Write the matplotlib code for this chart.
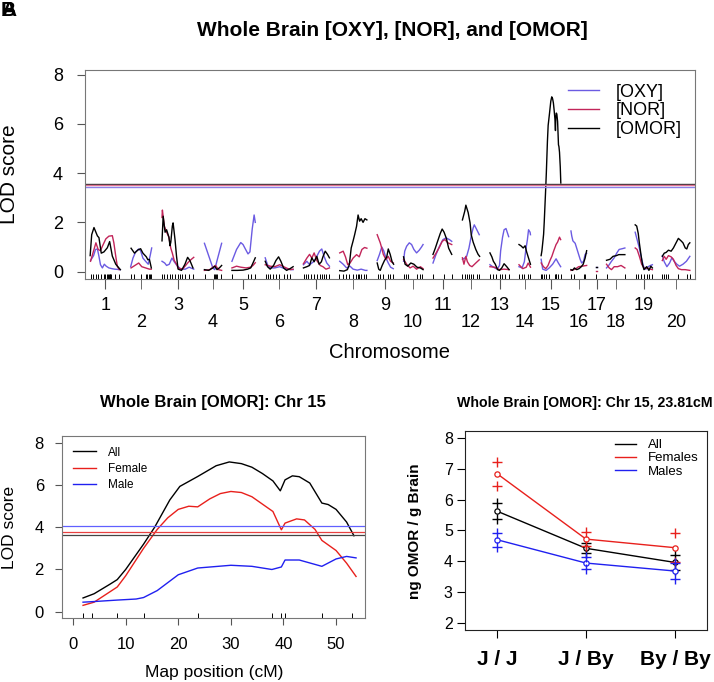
import numpy as np
import matplotlib.pyplot as plt
from matplotlib.lines import Line2D

plt.rcParams['font.family'] = ['Liberation Sans', 'DejaVu Sans']

# ---------------- genome scan (top panel) ----------------
chroms = [str(i) for i in range(1, 21)]
chr_len = [81, 57, 86, 47, 62, 75, 70, 73, 44, 52, 52, 47, 52, 31, 54, 42, 2, 49, 47, 73]
gap = 25

# marker positions (cM) per chromosome, for the rug
markers = [
    [3, 9, 16, 22, 30, 36, 39, 46, 48, 50, 52, 54, 56, 65, 76],
    [3, 11, 29, 42, 44, 48, 51, 55],
    [0, 7, 14, 21, 28, 35, 43, 49, 54, 62, 71, 83],
    [2, 25, 28, 31, 33, 45],
    [0, 43, 52, 61],
    [2, 7, 14, 21, 29, 38, 49, 59, 66],
    [2, 7, 12, 21, 29, 36, 45, 50, 55, 61, 68],
    [0, 9, 17, 26, 35, 43, 49, 52, 57, 64, 69],
    [2, 9, 17, 30, 35, 43],
    [2, 7, 12, 35, 43, 49],
    [1, 29, 50],
    [1, 7, 14, 19, 24, 29, 38, 45],
    [0, 9, 16, 26, 33, 40, 50],
    [0, 7, 14, 24, 29],
    [1.9, 3.6, 8.4, 13.4, 23.7, 37.8, 39.6, 40.3, 47.3, 53.1],
    [1, 8, 34, 39],
    [0.5],
    [1, 48],
    [2, 9, 16, 24, 31, 37, 44],
    [0, 5, 10, 16, 40, 64, 73],
]

# [OXY]
oxy_pos = [
    [2, 10, 15, 20, 24, 28, 33, 38, 43, 50, 58, 65, 80],
    [1, 7, 14, 22, 27, 33, 40, 47, 52, 56],
    [1, 8, 13, 20, 27, 33, 40, 50, 62, 72, 84],
    [1, 12, 23, 28, 34, 40, 46],
    [1, 13, 24, 30, 35, 43, 48, 54, 59, 62],
    [1, 7, 14, 26, 39, 52, 70, 74],
    [1, 10, 17, 29, 36, 43, 49, 55, 62, 69],
    [1, 10, 19, 28, 36, 47, 57, 68, 72],
    [1, 7, 13, 18, 24, 30, 36, 43],
    [1, 4, 9, 16, 22, 28, 35, 42, 48, 52],
    [1, 9, 18, 27, 35, 44, 50],
    [1, 7, 12, 18, 24, 29, 32, 37, 45],
    [1, 10, 20, 26, 29, 34, 38, 43, 50],
    [0, 8, 14, 18, 22, 25, 29, 30],
    [2, 6, 15, 23, 32, 41, 47, 53],
    [1, 3, 6, 12, 16, 21, 25, 29, 34, 38, 42],
    [0, 1],
    [0, 7, 13, 20, 27, 33, 41, 48],
    [1, 6, 12, 18, 23, 29, 35, 41, 46],
    [0, 5, 12, 19, 25, 31, 38, 45, 54, 63, 72],
]
oxy_lod = [
    [0.45, 0.65, 0.9, 0.92, 0.62, 0.28, 0.15, 0.3, 0.22, 0.15, 0.12, 0.1, 0.08],
    [0.2, 0.55, 0.8, 0.92, 0.85, 0.55, 0.42, 0.3, 0.65, 0.96],
    [0.42, 0.35, 0.25, 0.3, 0.55, 0.4, 0.25, 0.1, 0.1, 0.18, 0.1],
    [1.15, 0.65, 0.15, 0.08, 0.45, 0.8, 1.15],
    [0.42, 0.9, 1.18, 1.1, 0.95, 0.72, 0.8, 1.73, 2.3, 2.0],
    [0.56, 0.28, 0.15, 0.15, 0.2, 0.12, 0.08, 0.08],
    [0.28, 0.42, 0.28, 0.42, 0.62, 0.83, 0.92, 0.62, 0.35, 0.22],
    [0.42, 0.3, 0.15, 0.22, 0.1, 0.06, 0.1, 0.05, 0.05],
    [0.45, 0.7, 1.0, 0.85, 0.55, 0.35, 0.18, 0.12],
    [0.42, 0.83, 1.03, 1.17, 1.1, 0.9, 0.76, 0.87, 1.0, 1.1],
    [0.35, 0.7, 1.03, 1.3, 1.37, 1.3, 1.23],
    [0.5, 0.55, 0.62, 0.95, 1.44, 1.77, 1.9, 1.75, 1.5],
    [0.28, 0.18, 0.1, 0.25, 0.85, 1.4, 1.7, 1.75, 1.42],
    [0.2, 0.15, 0.4, 0.9, 1.3, 1.7, 1.6, 1.5],
    [0.5, 0.1, 0.05, 0.15, 0.3, 0.52, 0.35, 0.2],
    [1.65, 1.45, 1.25, 1.15, 0.95, 0.7, 0.5, 0.35, 0.42, 0.7, 0.75],
    [0.18, 0.18],
    [0.15, 0.28, 0.42, 0.56, 0.76, 0.9, 0.93, 0.96],
    [1.6, 1.3, 0.95, 0.5, 0.2, 0.1, 0.2, 0.25, 0.28],
    [0.65, 0.4, 0.2, 0.35, 0.56, 0.42, 0.3, 0.22, 0.3, 0.42, 0.62],
]

# [NOR]
nor_pos = [
    [2, 11, 16, 22, 28, 33, 42, 50, 59, 63, 68, 72, 77],
    [2, 12, 22, 30, 40, 50, 55],
    [1, 2, 7, 13, 19, 24, 28, 33, 39, 43, 55, 68, 74, 84],
    [1, 15, 23, 30, 38, 46],
    [1, 13, 24, 38, 50, 56, 62],
    [1, 14, 26, 39, 52, 66, 74],
    [1, 10, 17, 23, 29, 36, 45, 52, 60, 69],
    [1, 10, 16, 22, 28, 36, 45, 52, 59, 66, 72],
    [1, 9, 13, 17, 24, 30, 36, 43],
    [1, 9, 18, 26, 35, 45, 52],
    [1, 9, 18, 25, 32, 40, 50],
    [1, 5, 10, 14, 20, 26, 36, 45],
    [1, 13, 26, 38, 51],
    [0, 10, 19, 24, 30],
    [2, 8, 14, 20, 25, 30, 35, 41, 45, 50, 53],
    [1, 12, 21, 30, 42],
    [0, 1],
    [0, 7, 13, 20, 29, 38, 48],
    [1, 6, 12, 18, 25, 33, 41, 46],
    [0, 5, 10, 16, 23, 29, 36, 42, 50, 60, 72],
]
nor_lod = [
    [0.42, 0.9, 1.17, 0.9, 0.85, 1.03, 1.33, 1.44, 1.46, 1.17, 0.62, 0.22, 0.08],
    [0.15, 0.25, 0.35, 0.2, 0.15, 0.1, 0.1],
    [2.2, 2.5, 1.85, 1.6, 1.4, 0.95, 0.75, 0.45, 0.3, 0.15, 0.1, 0.35, 0.45, 0.58],
    [0.05, 0.08, 0.18, 0.25, 0.08, 0.05],
    [0.15, 0.22, 0.18, 0.15, 0.18, 0.25, 0.36],
    [0.28, 0.22, 0.2, 0.28, 0.18, 0.08, 0.1],
    [0.32, 0.55, 0.7, 0.55, 0.76, 0.45, 0.25, 0.2, 0.1, 0.15],
    [0.76, 0.83, 0.6, 0.28, 0.35, 0.55, 0.69, 0.6, 0.9, 0.98, 0.95],
    [1.5, 1.17, 0.95, 0.7, 0.49, 0.62, 0.42, 0.35],
    [0.5, 0.3, 0.15, 0.22, 0.1, 0.2, 0.12],
    [0.55, 0.75, 1.0, 1.23, 1.3, 1.17, 1.1],
    [0.56, 0.3, 0.62, 0.4, 0.25, 0.2, 0.35, 0.48],
    [0.2, 0.18, 0.08, 0.1, 0.08],
    [0.28, 0.12, 0.18, 0.35, 0.18],
    [0.35, 0.2, 0.12, 0.25, 0.45, 0.62, 0.85, 1.1, 1.2, 1.4, 1.3],
    [0.05, 0.1, 0.2, 0.22, 0.25],
    [0.04, 0.04],
    [0.3, 0.15, 0.08, 0.2, 0.2, 0.25, 0.15],
    [0.96, 0.9, 0.62, 0.3, 0.12, 0.15, 0.1, 0.08],
    [0.45, 0.62, 0.5, 0.65, 0.6, 0.5, 0.25, 0.12, 0.08, 0.08, 0.05],
]

# ---------------- chr 15 detail (bottom left) ----------------
all_pos = [1.9, 4, 7, 8.4, 10, 13.4, 15.5, 18.4, 20.3, 23.7, 27.2, 29.7, 32, 34, 36, 38,
           39.4, 40.3, 41.7, 43, 45, 47.3, 48.5, 50, 52, 53.4]
all_lod = [0.65, 0.85, 1.3, 1.52, 2.0, 3.2, 4.0, 5.3, 5.94, 6.41, 6.92, 7.1, 7.02, 6.85,
           6.55, 6.2, 5.73, 6.25, 6.44, 6.4, 6.1, 5.15, 5.08, 4.85, 4.25, 3.6]
fem_pos = [1.9, 4, 8.4, 10, 13.4, 16, 18, 20, 22, 23.7, 26, 28, 30, 32, 34, 36, 38,
           39.6, 40.3, 42.5, 44, 46, 47.3, 50, 52, 53.8]
fem_lod = [0.3, 0.45, 1.17, 1.7, 3.0, 3.9, 4.45, 4.85, 5.0, 4.97, 5.35, 5.6, 5.7, 5.65,
           5.45, 5.1, 4.75, 3.88, 4.2, 4.4, 4.35, 3.9, 3.38, 2.9, 2.3, 1.67]
male_pos = [1.9, 4, 8.4, 12, 13.4, 16, 20, 23.7, 30, 34, 37.8, 39.6, 40.3, 43, 47.3,
            50, 52, 53.8]
male_lod = [0.45, 0.48, 0.55, 0.6, 0.67, 1.0, 1.75, 2.07, 2.2, 2.15, 2.0, 2.12, 2.45,
            2.45, 2.15, 2.5, 2.62, 2.55]

# [OMOR]  (chr 15 is the same scan as "All" above)
omor_pos = [
    [1, 5, 11, 16, 20, 24, 30, 37, 46, 52, 59, 68, 80],
    [2, 11, 20, 27, 33, 42, 46, 50, 55],
    [1, 4, 9, 13, 19, 22, 24, 28, 30, 35, 39, 43, 52, 61, 68, 74, 82],
    [1, 12, 23, 28, 34, 40, 46],
    [1, 15, 30, 42, 50, 56, 62],
    [1, 7, 14, 23, 29, 36, 42, 49, 57, 66, 74],
    [1, 10, 17, 23, 29, 36, 42, 48, 52, 58, 64, 69],
    [1, 12, 21, 26, 31, 36, 40, 45, 49, 53, 57, 62, 67, 72],
    [1, 5, 9, 14, 20, 26, 30, 35, 40, 44],
    [1, 5, 12, 20, 28, 36, 45, 52],
    [1, 7, 13, 20, 25, 30, 36, 42, 50],
    [1, 7, 10, 16, 21, 24, 29, 36, 42, 46],
    [1, 6, 10, 15, 21, 26, 32, 38, 45, 51],
    [0, 5, 11, 16, 20, 24, 30],
    all_pos,
    [1, 5, 10, 16, 22, 28, 33, 38, 42],
    [0, 1],
    [0, 9, 17, 26, 32, 39, 48],
    [1, 5, 9, 12, 16, 20, 24, 31, 37, 42, 46],
    [0, 5, 10, 16, 23, 29, 36, 42, 49, 54, 60, 64, 68, 72],
]
omor_lod = [
    [0.65, 1.5, 1.79, 1.6, 1.45, 1.38, 0.75, 0.8, 0.97, 1.22, 0.63, 0.3, 0.08],
    [0.95, 0.75, 0.88, 0.93, 0.75, 0.6, 0.48, 0.5, 0.15],
    [1.25, 2.25, 1.6, 1.7, 1.4, 1.05, 1.2, 1.85, 1.98, 1.3, 0.62, 0.1, 0.05, 0.3, 0.58, 0.45, 0.15],
    [0.08, 0.05, 0.15, 0.22, 0.08, 0.15, 0.25],
    [0.05, 0.05, 0.06, 0.1, 0.15, 0.35, 0.56],
    [0.42, 0.2, 0.1, 0.25, 0.45, 0.6, 0.42, 0.15, 0.05, 0.12, 0.2],
    [0.15, 0.2, 0.25, 0.56, 0.4, 0.62, 0.3, 0.4, 0.6, 0.83, 0.7, 0.56],
    [0.04, 0.02, 0.08, 0.28, 0.96, 1.25, 1.5, 1.84, 2.3, 2.05, 2.15, 2.0, 2.15, 2.1],
    [0.35, 0.1, 0.05, 0.25, 0.45, 0.6, 0.92, 0.7, 0.4, 0.3],
    [0.6, 0.3, 0.22, 0.35, 0.3, 0.18, 0.15, 0.08],
    [0.7, 0.95, 1.23, 1.55, 1.73, 1.6, 1.35, 0.95, 0.7],
    [2.1, 2.45, 2.7, 2.4, 1.98, 1.5, 1.2, 0.9, 0.7, 0.62],
    [0.76, 0.6, 0.42, 0.3, 0.08, 0.05, 0.15, 0.32, 0.2, 0.08],
    [1.1, 1.05, 0.96, 1.05, 0.8, 0.6, 0.3],
    all_lod,
    [0.08, 0.05, 0.15, 0.08, 0.12, 0.2, 0.3, 0.55, 0.85],
    [0.2, 0.2],
    [0.46, 0.5, 0.62, 0.65, 0.69, 0.69, 0.69],
    [1.9, 1.85, 1.55, 1.15, 0.7, 0.3, 0.08, 0.2, 0.05, 0.22, 0.15],
    [0.62, 0.75, 0.78, 0.87, 0.83, 0.96, 1.17, 1.35, 1.25, 1.17, 0.96, 0.92, 1.1, 1.17],
]

# significance thresholds
thr_omor, thr_nor, thr_oxy = 3.56, 3.5, 3.45
thr_all, thr_fem, thr_male = 3.62, 3.78, 4.08

# ---------------- effect plot (bottom right) ----------------
genotypes = ['J / J', 'J / By', 'By / By']
all_mean = [5.63, 4.42, 3.96]
all_se = [0.26, 0.16, 0.24]
fem_mean = [6.85, 4.72, 4.44]
fem_se = [0.39, 0.23, 0.47]
male_mean = [4.70, 3.94, 3.68]
male_se = [0.23, 0.20, 0.26]

oxy_col = '#6B5BE2'
nor_col = '#C2255A'
red = '#E8201C'
blue = '#2020F0'

W, H = 714, 682
fig = plt.figure(figsize=(W / 100, H / 100), dpi=100)


def box(l, t, r, b):
    return [l / W, 1 - b / H, (r - l) / W, (b - t) / H]


# ======== top panel ========
ax = fig.add_axes(box(85, 70, 695, 279))
offs = np.concatenate([[0], np.cumsum(np.array(chr_len[:-1]) + gap)])
mids = offs + np.array(chr_len) / 2.0

for i in range(20):
    ax.plot(offs[i] + np.array(oxy_pos[i]), oxy_lod[i], color=oxy_col, lw=1)
    ax.plot(offs[i] + np.array(nor_pos[i]), nor_lod[i], color=nor_col, lw=1)
    ax.plot(offs[i] + np.array(omor_pos[i]), omor_lod[i], color='black', lw=1)

y0, y1 = -0.3, 8.19
for i in range(20):
    ax.vlines(offs[i] + np.array(markers[i]), y0, y0 + 0.2, color='black', lw=0.7)

ax.axhline(thr_omor, color='#333333', lw=1)
ax.axhline(thr_nor, color='#E07090', lw=1)
ax.axhline(thr_oxy, color='#8C80E8', lw=1)

ax.set_xlim(-gap / 2, offs[-1] + chr_len[-1] + gap / 2)
ax.set_ylim(y0, y1)
ax.set_yticks([0, 2, 4, 6, 8])
ax.tick_params(axis='y', labelsize=13, length=5.8, pad=10, color='#555555')
ax.set_xticks(mids[0::2], chroms[0::2])
ax.set_xticks(mids[1::2], chroms[1::2], minor=True)
ax.tick_params(axis='x', which='both', labelsize=13, length=7.2, color='#555555')
ax.tick_params(axis='x', which='major', pad=5.5)
ax.tick_params(axis='x', which='minor', pad=18)
for s in ax.spines.values():
    s.set_color('#777777')

handles = [Line2D([], [], color=oxy_col, lw=1), Line2D([], [], color=nor_col, lw=1),
           Line2D([], [], color='black', lw=1)]
ax.legend(handles, ['[OXY]', '[NOR]', '[OMOR]'], loc='upper right', frameon=False,
          fontsize=13, handlelength=1.75, labelspacing=0.1, handletextpad=0.9,
          borderaxespad=0.35)

fig.text(392 / W, 1 - 30 / H, 'Whole Brain [OXY], [NOR], and [OMOR]', ha='center',
         va='center', fontsize=15, fontweight='bold')
fig.text(390 / W, 1 - 353 / H, 'Chromosome', ha='center', va='center', fontsize=14.5)
fig.text(10 / W, 1 - 174 / H, 'LOD score', ha='center', va='center', fontsize=15,
         rotation=90)
fig.text(1 / W, 1 - 10 / H, 'A', ha='left', va='center', fontsize=15, fontweight='bold')
fig.text(1 / W, 1 - 10 / H, 'B', ha='left', va='center', fontsize=15, fontweight='bold')

# ======== bottom left ========
ax2 = fig.add_axes(box(62, 436, 365, 618))
ax2.plot(all_pos, all_lod, color='black', lw=1)
ax2.plot(fem_pos, fem_lod, color=red, lw=1)
ax2.plot(male_pos, male_lod, color=blue, lw=1)
ax2.axhline(thr_male, color='#6060FF', lw=0.9)
ax2.axhline(thr_fem, color='#E84040', lw=0.9)
ax2.axhline(thr_all, color='#444444', lw=0.9)
b0, b1 = -0.3, 8.33
ax2.vlines(markers[14], b0, b0 + 0.24, color='black', lw=0.7)
ax2.set_xlim(-2.1, 55.5)
ax2.set_ylim(b0, b1)
ax2.set_xticks([0, 10, 20, 30, 40, 50])
ax2.set_yticks([0, 2, 4, 6, 8])
ax2.tick_params(labelsize=12, length=5, color='#555555')
ax2.tick_params(axis='x', pad=9)
ax2.tick_params(axis='y', pad=8)
for s in ax2.spines.values():
    s.set_color('#777777')
ax2.legend(['All', 'Female', 'Male'], loc='upper left', frameon=False, fontsize=8.5,
           handlelength=2.0, labelspacing=0.35, handletextpad=1.0, borderaxespad=0.5)
fig.text(213 / W, 1 - 402 / H, 'Whole Brain [OMOR]: Chr 15', ha='center', va='center',
         fontsize=12, fontweight='bold')
fig.text(10 / W, 1 - 527 / H, 'LOD score', ha='center', va='center', fontsize=12.5,
         rotation=90)
fig.text(214 / W, 1 - 672 / H, 'Map position (cM)', ha='center', va='center',
         fontsize=12.5)

# ======== bottom right ========
ax3 = fig.add_axes(box(465, 431, 707, 630))
xg = np.arange(1, 4)
for mean, se, col, lab in [(all_mean, all_se, 'black', 'All'),
                           (fem_mean, fem_se, red, 'Females'),
                           (male_mean, male_se, blue, 'Males')]:
    mean = np.array(mean)
    se = np.array(se)
    ax3.plot(xg, mean, color=col, lw=1, label=lab)
    ax3.plot(xg, mean, 'o', ms=3.8, mfc='white', mec=col, mew=0.9)
    ax3.plot(xg, mean + se, '+', ms=6.5, color=col, mew=1)
    ax3.plot(xg, mean - se, '+', ms=6.5, color=col, mew=1)
ax3.set_xlim(0.64, 3.36)
ax3.set_ylim(1.76, 8.24)
ax3.set_yticks([2, 3, 4, 5, 6, 7, 8])
ax3.set_xticks(xg, genotypes)
ax3.tick_params(axis='y', labelsize=11.5, length=5.8, pad=3)
ax3.tick_params(axis='x', labelsize=15, length=5.8, pad=8.5)
for t in ax3.get_xticklabels():
    t.set_fontweight('bold')
for s in ax3.spines.values():
    s.set_color('#222222')
ax3.legend(loc='upper right', frameon=False, fontsize=9.5, handlelength=1.6,
           labelspacing=0.08, handletextpad=0.9, borderaxespad=0.2)
fig.text(585 / W, 1 - 403 / H, 'Whole Brain [OMOR]: Chr 15, 23.81cM', ha='center',
         va='center', fontsize=10.2, fontweight='bold')
fig.text(415 / W, 1 - 531 / H, 'ng OMOR / g Brain', ha='center', va='center',
         fontsize=11, fontweight='bold', rotation=90)

fig.savefig('out.png', dpi=100)
